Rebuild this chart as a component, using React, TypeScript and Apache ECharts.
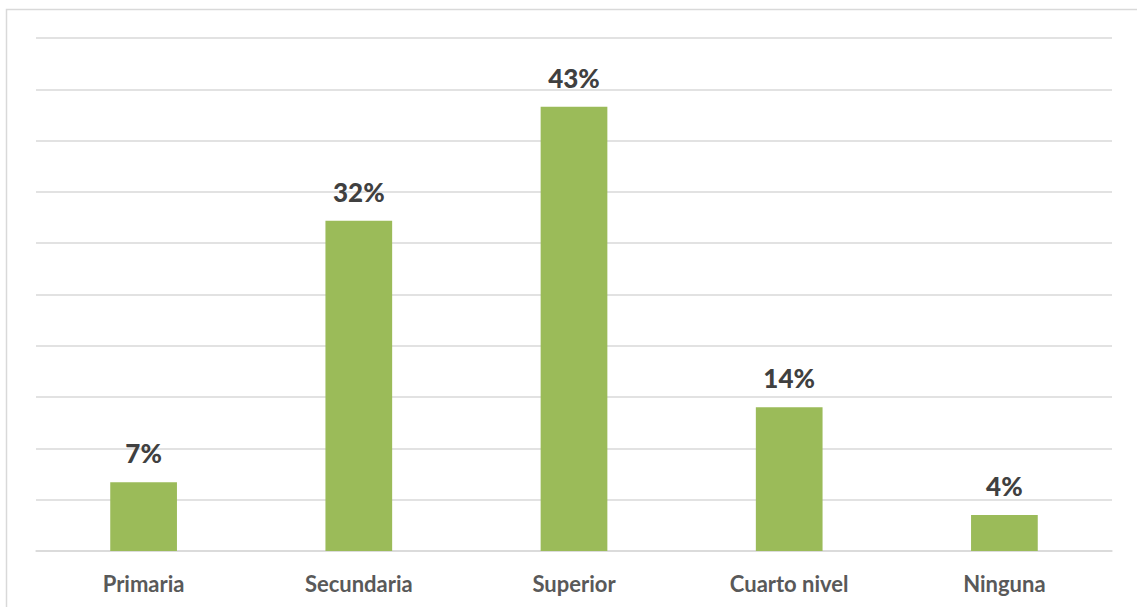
import React, { useEffect, useRef } from "react";
import * as echarts from "echarts";

const categories = ["Primaria", "Secundaria", "Superior", "Cuarto nivel", "Ninguna"];
const values = [6.7, 32.2, 43.3, 14.0, 3.5];
const labels = ["7%", "32%", "43%", "14%", "4%"];

export default function App() {
  const ref = useRef<HTMLDivElement>(null);
  useEffect(() => {
    const chart = echarts.init(ref.current!, undefined, { renderer: "svg" });
    chart.setOption({
      animation: false,
      backgroundColor: "#ffffff",
      graphic: [
        {
          type: "rect",
          shape: { x: 6.5, y: 9.5, width: 1200, height: 700 },
          style: { fill: "none", stroke: "#d9d9d9", lineWidth: 1.5 },
          silent: true,
        },
      ],
      grid: { left: 36, right: 25, top: 38, bottom: 56, containLabel: false },
      xAxis: {
        type: "category",
        data: categories,
        axisTick: { show: false },
        axisLine: { show: true, lineStyle: { color: "#d9d9d9", width: 1.5 } },
        axisLabel: {
          color: "#595959",
          fontFamily: "Lato, 'Open Sans', sans-serif",
          fontWeight: "bold",
          fontSize: 22,
          margin: 21,
        },
      },
      yAxis: {
        type: "value",
        min: 0,
        max: 50,
        interval: 5,
        axisLabel: { show: false },
        axisLine: { show: false },
        axisTick: { show: false },
        splitLine: { lineStyle: { color: "#d9d9d9", width: 1.5 } },
      },
      series: [
        {
          type: "bar",
          data: values,
          barWidth: "31%",
          itemStyle: { color: "#9bbb59" },
          label: {
            show: true,
            position: "top",
            distance: 16,
            formatter: (p: any) => labels[p.dataIndex],
            color: "#404040",
            fontFamily: "Lato, 'Open Sans', sans-serif",
            fontWeight: 900,
            fontSize: 26,
          },
        },
      ],
    });
    return () => chart.dispose();
  }, []);
  return (
    <div
      ref={ref}
      style={{ position: "fixed", left: 0, top: 0, width: 1137, height: 607 }}
    />
  );
}
